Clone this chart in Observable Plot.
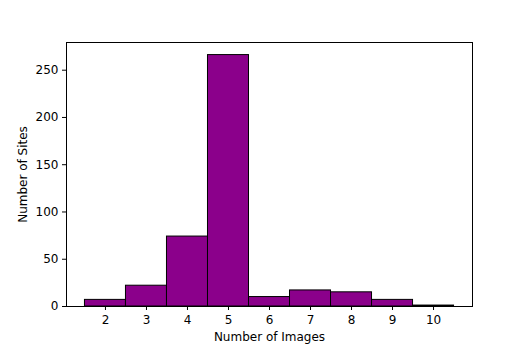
<!DOCTYPE html>
<html><head><meta charset="utf-8">
<script src="https://cdn.jsdelivr.net/npm/d3@7"></script>
<script src="https://cdn.jsdelivr.net/npm/@observablehq/plot@0.6"></script>
<style>body{margin:0;background:#fff}</style>
</head><body><div id="chart"></div>
<script>
const images = [2, 3, 4, 5, 6, 7, 8, 9, 10];
const sites = [7, 22, 74, 266, 10, 17, 15, 7, 1];
const xTicks = [2, 3, 4, 5, 6, 7, 8, 9, 10];
const yTicks = [0, 50, 100, 150, 200, 250];

const data = images.map((v, i) => ({x1: v - 0.5, x2: v + 0.5, y: sites[i]}));

const chart = Plot.plot({
  width: 525,
  height: 350,
  marginLeft: 66,
  marginRight: 53,
  marginTop: 42,
  marginBottom: 44,
  style: {fontFamily: "DejaVu Sans", fontSize: "12px", color: "black", background: "white"},
  x: {domain: [1.05, 10.95]},
  y: {domain: [0, 279.3]},
  marks: [
    Plot.rectY(data, {x1: "x1", x2: "x2", y: "y", fill: "#8B008B", stroke: "black", strokeWidth: 1}),
    Plot.frame({stroke: "black", strokeWidth: 1}),
    Plot.axisX({ticks: xTicks, tickSize: 4, tickPadding: 5, label: "Number of Images", labelAnchor: "center", labelArrow: "none", labelOffset: 34}),
    Plot.axisY({ticks: yTicks, tickSize: 4, tickPadding: 4, label: "Number of Sites", labelAnchor: "center", labelArrow: "none", labelOffset: 48})
  ]
});
document.getElementById("chart").appendChild(chart);
</script>
</body></html>
